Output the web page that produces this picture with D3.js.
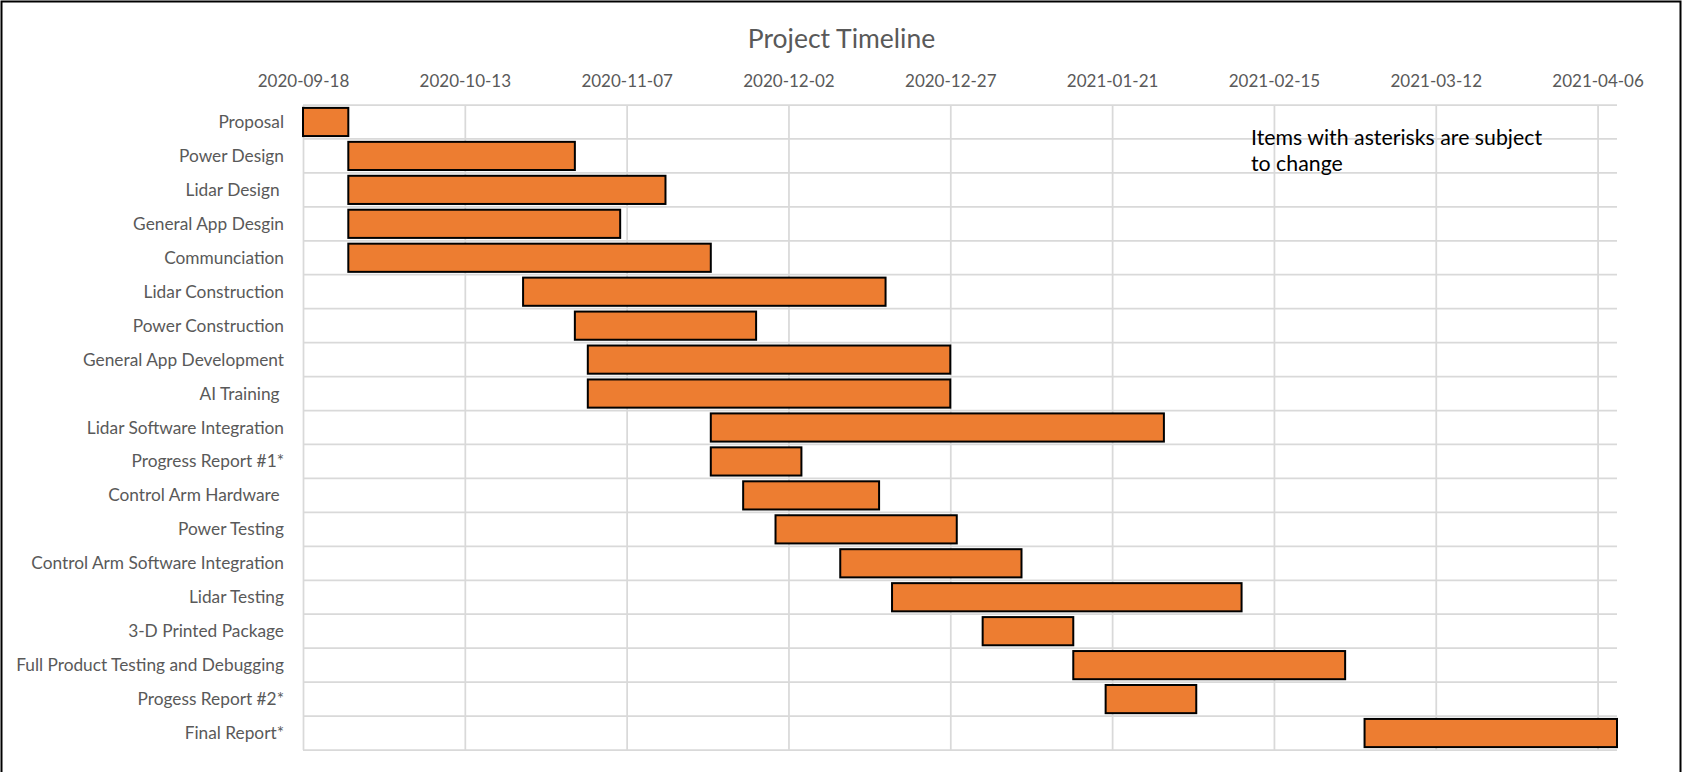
<!DOCTYPE html>
<html>
<head>
<meta charset="utf-8">
<script src="https://cdn.jsdelivr.net/npm/d3@7"></script>
<style>
  html, body { margin: 0; padding: 0; background: #fff; }
  svg { display: block; }
  text { white-space: pre; }
</style>
</head>
<body>
<svg id="chart" width="1683" height="772"></svg>
<script>
// ---- Data ----
const tasks = [
  "Proposal", "Power Design", "Lidar Design ", "General App Desgin", "Communciation",
  "Lidar Construction", "Power Construction", "General App Development", "AI Training ",
  "Lidar Software Integration", "Progress Report #1*", "Control Arm Hardware ",
  "Power Testing", "Control Arm Software Integration", "Lidar Testing",
  "3-D Printed Package", "Full Product Testing and Debugging", "Progess Report #2*", "Final Report*"
];
const startDates = [
  "2020-09-18", "2020-09-25", "2020-09-25", "2020-09-25", "2020-09-25",
  "2020-10-22", "2020-10-30", "2020-11-01", "2020-11-01",
  "2020-11-20", "2020-11-20", "2020-11-25",
  "2020-11-30", "2020-12-10", "2020-12-18",
  "2021-01-01", "2021-01-15", "2021-01-20", "2021-03-01"
];
const endDates = [
  "2020-09-25", "2020-10-30", "2020-11-13", "2020-11-06", "2020-11-20",
  "2020-12-17", "2020-11-27", "2020-12-27", "2020-12-27",
  "2021-01-29", "2020-12-04", "2020-12-16",
  "2020-12-28", "2021-01-07", "2021-02-10",
  "2021-01-15", "2021-02-26", "2021-02-03", "2021-04-09"
];
const tickLabels = [
  "2020-09-18", "2020-10-13", "2020-11-07", "2020-12-02", "2020-12-27",
  "2021-01-21", "2021-02-15", "2021-03-12", "2021-04-06"
];
const axisMin = "2020-09-18";
const axisMax = "2021-04-09";
const chartTitle = "Project Timeline";
const noteLines = ["Items with asterisks are subject", "to change"];

// ---- Layout ----
const W = 1683, H = 772;
const plot = { left: 303, right: 1617, top: 105, bottom: 750 };
const parse = d3.utcParse("%Y-%m-%d");
const fmt = d3.utcFormat("%Y-%m-%d");

const svg = d3.select("#chart");
const labelFont = "Lato, 'Open Sans', sans-serif";

const x = d3.scaleUtc()
  .domain([parse(axisMin), parse(axisMax)])
  .range([plot.left, plot.right]);

const y = d3.scaleBand()
  .domain(tasks)
  .range([plot.top, plot.bottom])
  .paddingInner(0).paddingOuter(0);

const gridColor = "#d9d9d9";

// Horizontal gridlines (row boundaries)
const rowEdges = tasks.map(t => y(t)).concat([plot.bottom]);
svg.append("g").selectAll("line").data(rowEdges).join("line")
  .attr("x1", plot.left).attr("x2", plot.right)
  .attr("y1", d => d).attr("y2", d => d)
  .attr("stroke", gridColor).attr("stroke-width", 1.75);

// Top axis with vertical gridlines
const xAxis = d3.axisTop(x)
  .tickValues(tickLabels.map(parse))
  .tickFormat(fmt)
  .tickSizeInner(-(plot.bottom - plot.top))
  .tickSizeOuter(0)
  .tickPadding(18);

const gx = svg.append("g")
  .attr("transform", `translate(0,${plot.top})`)
  .call(xAxis);
gx.select(".domain").remove();
gx.selectAll(".tick line").attr("stroke", gridColor).attr("stroke-width", 1.75);
gx.selectAll(".tick text")
  .attr("fill", "#595959")
  .style("font-family", labelFont)
  .style("font-size", "17px");

// Category labels
svg.append("g").selectAll("text").data(tasks).join("text")
  .attr("x", 284)
  .attr("y", d => y(d) + y.bandwidth() / 2 + 6)
  .attr("text-anchor", "end")
  .attr("fill", "#595959")
  .style("font-family", labelFont)
  .style("font-size", "17.3px")
  .text(d => d);

// Bars
const barH = y.bandwidth() * 0.83;
svg.append("g").selectAll("rect").data(tasks).join("rect")
  .attr("x", (d, i) => x(parse(startDates[i])))
  .attr("width", (d, i) => x(parse(endDates[i])) - x(parse(startDates[i])))
  .attr("y", d => y(d) + (y.bandwidth() - barH) / 2)
  .attr("height", barH)
  .attr("fill", "#ED7D31")
  .attr("stroke", "#000")
  .attr("stroke-width", 2);

// Title
svg.append("text")
  .attr("x", W / 2).attr("y", 48)
  .attr("text-anchor", "middle")
  .attr("fill", "#595959")
  .style("font-family", labelFont)
  .style("font-size", "26.5px")
  .text(chartTitle);

// Annotation
svg.append("g").selectAll("text").data(noteLines).join("text")
  .attr("x", 1251)
  .attr("y", (d, i) => 145 + i * 26)
  .attr("fill", "#000")
  .style("font-family", labelFont)
  .style("font-size", "21.3px")
  .text(d => d);

// Outer border (left, top, right)
svg.append("path")
  .attr("d", `M1.5,${H + 5} V1.5 H1680.5 V${H + 5}`)
  .attr("fill", "none")
  .attr("stroke", "#000")
  .attr("stroke-width", 2);
</script>
</body>
</html>
